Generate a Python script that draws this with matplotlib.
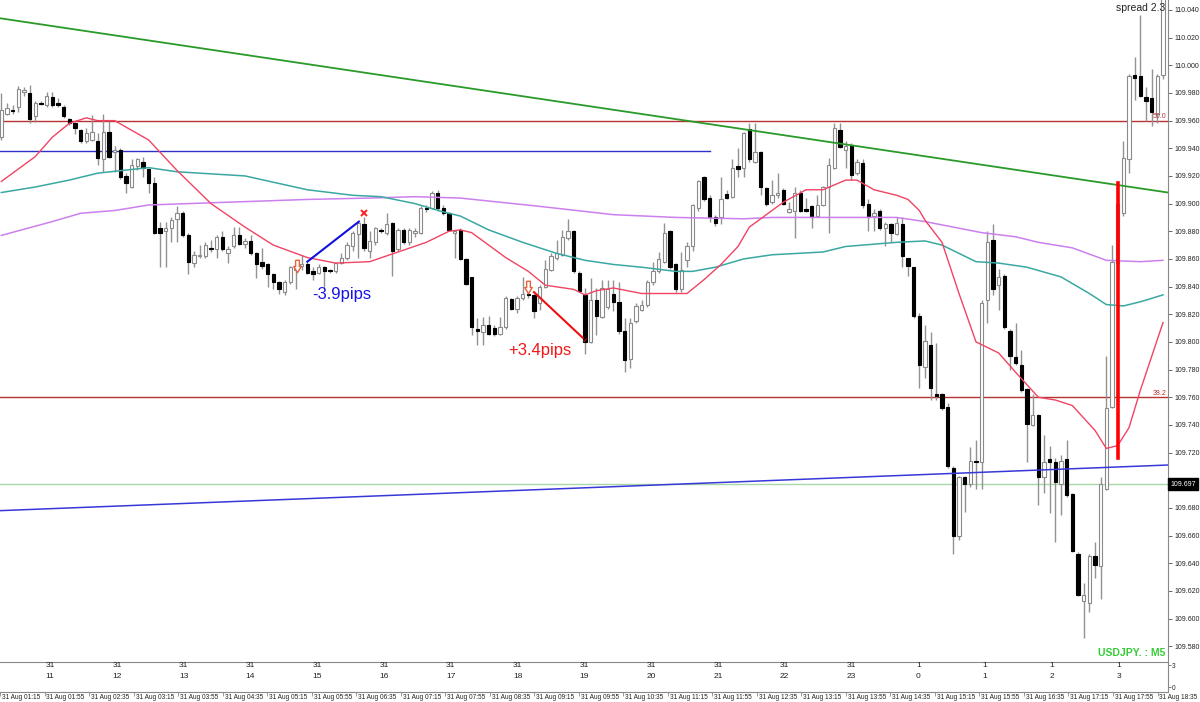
import matplotlib
matplotlib.use("Agg")
import matplotlib.pyplot as plt
import matplotlib.transforms as mtransforms
from matplotlib.path import Path

plt.rcParams['font.family'] = ['Liberation Sans', 'DejaVu Sans']

# ---------------- data (USDJPY M5, bars from 31 Aug 01:35) ----------------
opens = [
    109.948, 109.965, 109.968, 109.970, 109.981, 109.980, 109.963, 109.973, 109.971, 109.977,
    109.973, 109.970, 109.961, 109.958, 109.953, 109.945, 109.946, 109.945, 109.932, 109.952,
    109.937, 109.939, 109.920, 109.912, 109.927, 109.930, 109.925, 109.915, 109.882, 109.880,
    109.882, 109.889, 109.893, 109.877, 109.857, 109.862, 109.862, 109.868, 109.867, 109.876,
    109.864, 109.869, 109.877, 109.871, 109.873, 109.864, 109.858, 109.856, 109.849, 109.843,
    109.836, 109.843, 109.852, 109.855, 109.856, 109.851, 109.850, 109.854, 109.852, 109.851,
    109.857, 109.861, 109.869, 109.878, 109.885, 109.866, 109.872, 109.881, 109.879, 109.886,
    109.867, 109.881, 109.872, 109.879, 109.879, 109.897, 109.897, 109.908, 109.897, 109.893,
    109.879, 109.881, 109.860, 109.847, 109.809, 109.807, 109.812, 109.810, 109.806, 109.811,
    109.831, 109.824, 109.832, 109.835, 109.834, 109.828, 109.840, 109.852, 109.861, 109.863,
    109.875, 109.880, 109.850, 109.834, 109.800, 109.830, 109.818, 109.825, 109.835, 109.829,
    109.808, 109.788, 109.815, 109.823, 109.827, 109.843, 109.851, 109.858, 109.880, 109.856,
    109.838, 109.859, 109.869, 109.897, 109.919, 109.904, 109.890, 109.890, 109.907, 109.905,
    109.927, 109.926, 109.954, 109.930, 109.937, 109.911, 109.901, 109.906, 109.910, 109.894,
    109.895, 109.908, 109.896, 109.898, 109.891, 109.899, 109.912, 109.926, 109.953, 109.939,
    109.942, 109.922, 109.929, 109.900, 109.891, 109.895, 109.882, 109.885, 109.878, 109.885,
    109.861, 109.854, 109.819, 109.782, 109.798, 109.762, 109.762, 109.753, 109.709, 109.660,
    109.702, 109.697, 109.714, 109.713, 109.830, 109.874, 109.841, 109.848, 109.808, 109.789,
    109.783, 109.766, 109.740, 109.747, 109.702, 109.715, 109.713, 109.697, 109.715, 109.690,
    109.647, 109.613, 109.611, 109.645, 109.638, 109.694, 109.753, 109.857, 109.893, 109.932,
    109.993, 109.992, 109.977, 109.976, 109.965, 109.993,
]
highs = [
    109.980, 109.973, 109.971, 109.985, 109.984, 109.986, 109.974, 109.974, 109.981, 109.981,
    109.976, 109.971, 109.962, 109.959, 109.954, 109.955, 109.964, 109.951, 109.965, 109.960,
    109.942, 109.940, 109.922, 109.932, 109.933, 109.934, 109.926, 109.919, 109.887, 109.887,
    109.890, 109.898, 109.895, 109.879, 109.866, 109.870, 109.872, 109.874, 109.877, 109.880,
    109.869, 109.883, 109.883, 109.875, 109.877, 109.865, 109.868, 109.857, 109.850, 109.844,
    109.845, 109.855, 109.858, 109.863, 109.858, 109.854, 109.856, 109.855, 109.853, 109.858,
    109.864, 109.872, 109.880, 109.887, 109.890, 109.880, 109.883, 109.882, 109.893, 109.887,
    109.882, 109.882, 109.882, 109.882, 109.898, 109.899, 109.909, 109.910, 109.899, 109.894,
    109.881, 109.882, 109.861, 109.847, 109.817, 109.818, 109.819, 109.812, 109.818, 109.833,
    109.832, 109.833, 109.847, 109.838, 109.835, 109.841, 109.859, 109.864, 109.874, 109.881,
    109.889, 109.881, 109.851, 109.839, 109.846, 109.839, 109.845, 109.845, 109.845, 109.843,
    109.817, 109.817, 109.828, 109.830, 109.845, 109.858, 109.865, 109.886, 109.881, 109.857,
    109.865, 109.872, 109.900, 109.917, 109.920, 109.906, 109.892, 109.919, 109.910, 109.932,
    109.940, 109.952, 109.958, 109.958, 109.938, 109.912, 109.917, 109.922, 109.911, 109.901,
    109.912, 109.910, 109.904, 109.899, 109.906, 109.913, 109.933, 109.958, 109.958, 109.945,
    109.944, 109.932, 109.932, 109.903, 109.896, 109.896, 109.887, 109.886, 109.890, 109.890,
    109.861, 109.854, 109.821, 109.812, 109.807, 109.799, 109.763, 109.756, 109.710, 109.703,
    109.703, 109.724, 109.729, 109.830, 109.880, 109.885, 109.853, 109.849, 109.809, 109.814,
    109.794, 109.767, 109.762, 109.748, 109.733, 109.725, 109.716, 109.718, 109.729, 109.691,
    109.648, 109.626, 109.647, 109.655, 109.702, 109.790, 109.870, 109.903, 109.945, 109.994,
    110.006, 110.036, 109.984, 109.997, 109.994, 110.070,
]
lows = [
    109.946, 109.964, 109.965, 109.966, 109.978, 109.958, 109.959, 109.971, 109.970, 109.970,
    109.970, 109.962, 109.957, 109.950, 109.944, 109.944, 109.945, 109.928, 109.923, 109.933,
    109.923, 109.918, 109.908, 109.911, 109.924, 109.919, 109.908, 109.878, 109.854, 109.854,
    109.872, 109.872, 109.876, 109.849, 109.854, 109.861, 109.861, 109.865, 109.861, 109.866,
    109.857, 109.868, 109.870, 109.868, 109.863, 109.846, 109.853, 109.840, 109.838, 109.835,
    109.834, 109.842, 109.838, 109.852, 109.849, 109.845, 109.849, 109.840, 109.850, 109.850,
    109.856, 109.859, 109.866, 109.861, 109.866, 109.861, 109.870, 109.879, 109.877, 109.848,
    109.866, 109.871, 109.870, 109.876, 109.878, 109.894, 109.896, 109.895, 109.892, 109.880,
    109.861, 109.859, 109.841, 109.805, 109.798, 109.798, 109.805, 109.804, 109.805, 109.809,
    109.823, 109.821, 109.830, 109.832, 109.817, 109.823, 109.839, 109.851, 109.859, 109.862,
    109.874, 109.850, 109.836, 109.791, 109.799, 109.805, 109.817, 109.824, 109.822, 109.806,
    109.778, 109.781, 109.814, 109.822, 109.825, 109.841, 109.850, 109.857, 109.853, 109.836,
    109.836, 109.854, 109.866, 109.895, 109.902, 109.887, 109.884, 109.885, 109.903, 109.904,
    109.919, 109.919, 109.930, 109.929, 109.906, 109.898, 109.900, 109.904, 109.899, 109.893,
    109.875, 109.894, 109.894, 109.882, 109.890, 109.898, 109.879, 109.925, 109.940, 109.926,
    109.917, 109.921, 109.897, 109.880, 109.880, 109.881, 109.869, 109.872, 109.877, 109.854,
    109.848, 109.817, 109.767, 109.774, 109.758, 109.758, 109.751, 109.709, 109.647, 109.657,
    109.677, 109.695, 109.694, 109.694, 109.814, 109.834, 109.823, 109.809, 109.780, 109.783,
    109.764, 109.713, 109.739, 109.682, 109.691, 109.676, 109.655, 109.675, 109.688, 109.648,
    109.616, 109.586, 109.605, 109.629, 109.614, 109.693, 109.752, 109.847, 109.891, 109.922,
    109.975, 109.977, 109.960, 109.956, 109.958, 109.990,
]
closes = [
    109.968, 109.969, 109.967, 109.983, 109.982, 109.961, 109.973, 109.972, 109.978, 109.971,
    109.971, 109.963, 109.958, 109.955, 109.945, 109.951, 109.952, 109.933, 109.952, 109.934,
    109.939, 109.919, 109.915, 109.928, 109.932, 109.926, 109.915, 109.879, 109.879, 109.882,
    109.888, 109.893, 109.877, 109.858, 109.863, 109.863, 109.870, 109.867, 109.876, 109.867,
    109.867, 109.877, 109.871, 109.873, 109.864, 109.856, 109.855, 109.849, 109.843, 109.838,
    109.843, 109.854, 109.855, 109.856, 109.850, 109.849, 109.854, 109.851, 109.851, 109.857,
    109.861, 109.870, 109.879, 109.886, 109.868, 109.873, 109.882, 109.880, 109.885, 109.866,
    109.881, 109.872, 109.881, 109.880, 109.897, 109.896, 109.908, 109.897, 109.893, 109.881,
    109.880, 109.860, 109.842, 109.811, 109.808, 109.812, 109.806, 109.806, 109.811, 109.832,
    109.824, 109.832, 109.835, 109.834, 109.822, 109.840, 109.853, 109.862, 109.864, 109.876,
    109.880, 109.851, 109.837, 109.800, 109.830, 109.819, 109.839, 109.838, 109.829, 109.808,
    109.787, 109.814, 109.826, 109.827, 109.843, 109.851, 109.860, 109.879, 109.854, 109.838,
    109.852, 109.869, 109.899, 109.916, 109.903, 109.890, 109.886, 109.903, 109.904, 109.926,
    109.925, 109.951, 109.932, 109.937, 109.912, 109.900, 109.906, 109.908, 109.900, 109.896,
    109.908, 109.895, 109.895, 109.890, 109.899, 109.912, 109.928, 109.955, 109.941, 109.942,
    109.921, 109.930, 109.899, 109.890, 109.893, 109.882, 109.885, 109.879, 109.886, 109.862,
    109.855, 109.819, 109.783, 109.801, 109.767, 109.761, 109.752, 109.710, 109.660, 109.702,
    109.697, 109.714, 109.713, 109.828, 109.872, 109.838, 109.847, 109.811, 109.790, 109.785,
    109.765, 109.741, 109.747, 109.702, 109.713, 109.713, 109.699, 109.714, 109.689, 109.649,
    109.617, 109.617, 109.645, 109.639, 109.697, 109.752, 109.858, 109.900, 109.933, 109.992,
    109.991, 109.978, 109.974, 109.966, 109.992, 110.060,
]

# moving averages (bar index, value)
ma_red_x = [0, 6, 9, 12, 15, 17, 20, 23, 26, 31, 37, 43, 48, 54, 59, 65, 70, 75, 79, 81, 83,
            89, 93, 96, 101, 103, 105, 108, 113, 121, 124, 127, 130, 132, 136, 138, 142, 145,
            149, 151, 154, 158, 160, 162, 163, 166, 169, 172, 174, 176, 179, 183, 186, 189,
            193, 195, 197, 199, 201, 205]
ma_red_y = [109.916, 109.934, 109.948, 109.958, 109.962, 109.960, 109.960, 109.953, 109.946,
            109.924, 109.900, 109.883, 109.870, 109.861, 109.857, 109.858, 109.865, 109.872,
            109.880, 109.881, 109.879, 109.861, 109.851, 109.841, 109.838, 109.834, 109.837,
            109.839, 109.835, 109.835, 109.845, 109.856, 109.869, 109.883, 109.895, 109.901,
            109.910, 109.910, 109.917, 109.917, 109.910, 109.906, 109.903, 109.895, 109.888,
            109.872, 109.835, 109.800, 109.796, 109.792, 109.778, 109.760, 109.758, 109.754,
            109.736, 109.723, 109.725, 109.738, 109.765, 109.814]
ma_teal_x = [0, 6, 12, 17, 26, 31, 43, 54, 62, 67, 73, 78, 81, 86, 92, 98, 103, 108, 113, 119,
             122, 126, 131, 136, 145, 149, 158, 163, 166, 172, 176, 181, 187, 192, 195, 198,
             201, 205]
ma_teal_y = [109.908, 109.912, 109.917, 109.922, 109.926, 109.923, 109.920, 109.910, 109.906,
             109.905, 109.900, 109.894, 109.891, 109.881, 109.872, 109.864, 109.859, 109.856,
             109.854, 109.851, 109.851, 109.854, 109.860, 109.863, 109.865, 109.869, 109.872,
             109.873, 109.870, 109.858, 109.857, 109.854, 109.847, 109.835, 109.827, 109.826,
             109.829, 109.834]
ma_vio_x = [0, 9, 14, 20, 26, 54, 65, 73, 81, 95, 108, 119, 131, 136, 152, 158, 163, 173, 179,
            183, 189, 195, 201, 205]
ma_vio_y = [109.877, 109.887, 109.893, 109.895, 109.899, 109.903, 109.904, 109.905, 109.904,
            109.898, 109.892, 109.890, 109.889, 109.890, 109.890, 109.890, 109.887, 109.879,
            109.876, 109.872, 109.868, 109.859, 109.858, 109.859]

# drawn objects
green_trend_x = [-0.23, 205.88]
green_trend_y = [110.034, 109.908]
blue_trend_x = [-0.23, 205.88]
blue_trend_y = [109.678, 109.711]
blue_hline_x = [-0.23, 125.0]
blue_hline_y = 109.938
fib_levels = [109.960, 109.760]
fib_labels = ["50.0", "38.2"]
bid_price = 109.697
trade1_x = [54.0, 63.1]
trade1_y = [109.858, 109.887]
trade2_x = [94.0, 102.6]
trade2_y = [109.836, 109.803]
signal_x = [52.1, 93.0]
signal_y = [109.855, 109.840]
vline_x = 197.05
vline_y = [109.716, 109.915]

price_ticks = [109.580, 109.600, 109.620, 109.640, 109.660, 109.680, 109.700, 109.720,
               109.740, 109.760, 109.780, 109.800, 109.820, 109.840, 109.860, 109.880,
               109.900, 109.920, 109.940, 109.960, 109.980, 110.000, 110.020, 110.040]

time_label_bars = [-4, 4, 12, 20, 28, 36, 44, 52, 60, 68, 76, 84, 92, 100, 108, 116, 124,
                   132, 140, 148, 156, 164, 172, 180, 188, 196, 204]
time_labels = ["31 Aug 01:15", "31 Aug 01:55", "31 Aug 02:35", "31 Aug 03:15", "31 Aug 03:55",
               "31 Aug 04:35", "31 Aug 05:15", "31 Aug 05:55", "31 Aug 06:35", "31 Aug 07:15",
               "31 Aug 07:55", "31 Aug 08:35", "31 Aug 09:15", "31 Aug 09:55", "31 Aug 10:35",
               "31 Aug 11:15", "31 Aug 11:55", "31 Aug 12:35", "31 Aug 13:15", "31 Aug 13:55",
               "31 Aug 14:35", "31 Aug 15:15", "31 Aug 15:55", "31 Aug 16:35", "31 Aug 17:15",
               "31 Aug 17:55", "31 Aug 18:35"]
hour_bars = [5, 17, 29, 41, 53, 65, 77, 89, 101, 113, 125, 137, 149, 161, 173, 185, 197]
hour_days = ["31", "31", "31", "31", "31", "31", "31", "31", "31", "31", "31", "31", "31",
             "1", "1", "1", "1"]
hour_hours = ["11", "12", "13", "14", "15", "16", "17", "18", "19", "20", "21", "22", "23",
              "0", "1", "2", "3"]

# ---------------- figure ----------------
W, H = 1200, 702
fig = plt.figure(figsize=(12, 7.02), dpi=100)
fig.patch.set_facecolor('white')
ax = fig.add_axes([0, 1 - 661 / H, 1168 / W, 661 / H])
ax2 = fig.add_axes([0, 1 - 692 / H, 1168 / W, 30 / H])

XMIN, XMAX = -0.23, 205.88
ax.set_xlim(XMIN, XMAX)
ax.set_ylim(109.5693, 110.0472)

n = len(opens)
xs = list(range(n))

# horizontal / trend lines (behind candles)
ax.axhline(bid_price, color='#a8d8a8', lw=1, zorder=1)
for lv in fib_levels:
    ax.axhline(lv, color='#b83232', lw=1, zorder=1.5)
ax.plot(blue_hline_x, [blue_hline_y, blue_hline_y], color='#3030c8', lw=1, zorder=1.5)

# wicks
ax.vlines(xs, lows, highs, colors='#929292', linewidth=1, zorder=2)
# bodies
bottoms, heights, fcs, ecs = [], [], [], []
for o, c in zip(opens, closes):
    bottoms.append(min(o, c))
    heights.append(max(abs(c - o), 0.0004))
    if c >= o:
        fcs.append('white'); ecs.append('#8a8a8a')
    else:
        fcs.append('black'); ecs.append('black')
ax.bar(xs, heights, bottom=bottoms, width=0.62, color=fcs, edgecolor=ecs,
       linewidth=0.8, zorder=3)

# moving averages
ax.plot(ma_vio_x, ma_vio_y, color='#cc80ee', lw=1.1, zorder=4)
ax.plot(ma_teal_x, ma_teal_y, color='#3aa8a2', lw=1.1, zorder=4)
ax.plot(ma_red_x, ma_red_y, color='#f04462', lw=1.0, zorder=4)

# trend lines
ax.plot(green_trend_x, green_trend_y, color='#2a9a2a', lw=1.3, zorder=4)
ax.plot(blue_trend_x, blue_trend_y, color='#3838d8', lw=1.1, zorder=4)

# fib labels
for lv, lab in zip(fib_levels, fib_labels):
    ax.text(XMAX - 0.3, lv + 0.0005, lab, color='#b83232', fontsize=5,
            ha='right', va='bottom', zorder=6)

# trade annotations
ax.plot(trade1_x, trade1_y, color='#1010e0', lw=1.5, zorder=5)
ax.plot(trade2_x, trade2_y, color='#ee1010', lw=1.5, zorder=5)
ax.plot([64], [109.893], marker='x', color='#ff2020', ms=4, mew=1.4, zorder=6)
ax.text(103.0, 109.801, '\u2713', color='#ee1010', fontsize=6, ha='center', va='center',
        family=['DejaVu Sans'], zorder=6)

# hollow down-arrow signal markers
arrow_marker = Path([(-0.3, 1.0), (0.3, 1.0), (0.3, 0.0), (0.6, 0.0), (0.0, -1.0),
                     (-0.6, 0.0), (-0.3, 0.0), (-0.3, 1.0)])
ax.plot(signal_x, signal_y, linestyle='none', marker=arrow_marker, ms=9,
        mfc='white', mec='#e8603c', mew=1.0, zorder=6)

ax.text(54.8, 109.834, '-3.9pips', color='#1414e6', fontsize=12, ha='left', va='center',
        zorder=6)
ax.text(89.4, 109.794, '+3.4pips', color='#f01818', fontsize=12, ha='left', va='center',
        zorder=6)

# red vertical line
ax.plot([vline_x, vline_x], vline_y, color='#ff0000', lw=2.6, zorder=6)

# price axis (label under the bid tag is hidden, as in the terminal)
ax.yaxis.tick_right()
ax.set_yticks(price_ticks)
ax.set_yticklabels(['' if abs(p - 109.700) < 1e-6 else '%.3f' % p for p in price_ticks])
ax.tick_params(axis='y', labelsize=5, length=3, width=0.7, color='#666666',
               labelcolor='#222222', pad=2)
ax.set_xticks([])
for s in ['left', 'top', 'bottom']:
    ax.spines[s].set_visible(False)
ax.spines['right'].set_color('#888888')
ax.spines['right'].set_linewidth(0.8)

# ---------------- sub panel ----------------
ax2.set_xlim(XMIN, XMAX)
ax2.set_ylim(-0.68, 3.41)
ax2.yaxis.tick_right()
ax2.set_yticks([0, 3])
ax2.set_yticklabels(['0', '3'])
ax2.tick_params(axis='y', labelsize=4.7, length=2, width=0.6, color='#666666',
                labelcolor='#222222', pad=1)
ax2.set_xticks(time_label_bars)
ax2.set_xticklabels([])
ax2.tick_params(axis='x', length=3, width=0.6, color='#888888', direction='out')
ax2.spines['left'].set_visible(False)
for s in ['top', 'right', 'bottom']:
    ax2.spines[s].set_color('#888888')
    ax2.spines[s].set_linewidth(0.8)

trans = mtransforms.blended_transform_factory(ax2.transData, ax2.transAxes)
for b, d, h in zip(hour_bars, hour_days, hour_hours):
    ax2.text(b, 0.867, d, transform=trans, ha='center', va='center', fontsize=6,
             color='#222222')
    ax2.text(b, 0.533, h, transform=trans, ha='center', va='center', fontsize=6,
             color='#222222')
for b, lab in zip(time_label_bars, time_labels):
    ax2.text(b + 0.35, -0.17, lab, transform=trans, ha='left', va='center', fontsize=4.7,
             color='#222222', clip_on=False)

# ---------------- overlay texts ----------------
fig.text(1165 / W, 1 - 8 / H, 'spread 2.3', ha='right', va='center', fontsize=7.5,
         color='#222222')
fig.text(1165 / W, 1 - 653 / H, 'USDJPY. : M5', ha='right', va='center', fontsize=7.5,
         fontweight='bold', color='#33cc33')
fig.text(1170 / W, 1 - 484 / H, '%.3f' % bid_price, ha='left', va='center', fontsize=5,
         color='white', bbox=dict(facecolor='black', edgecolor='black', pad=1.6), zorder=10)

fig.savefig('out.png', dpi=100, facecolor='white')
